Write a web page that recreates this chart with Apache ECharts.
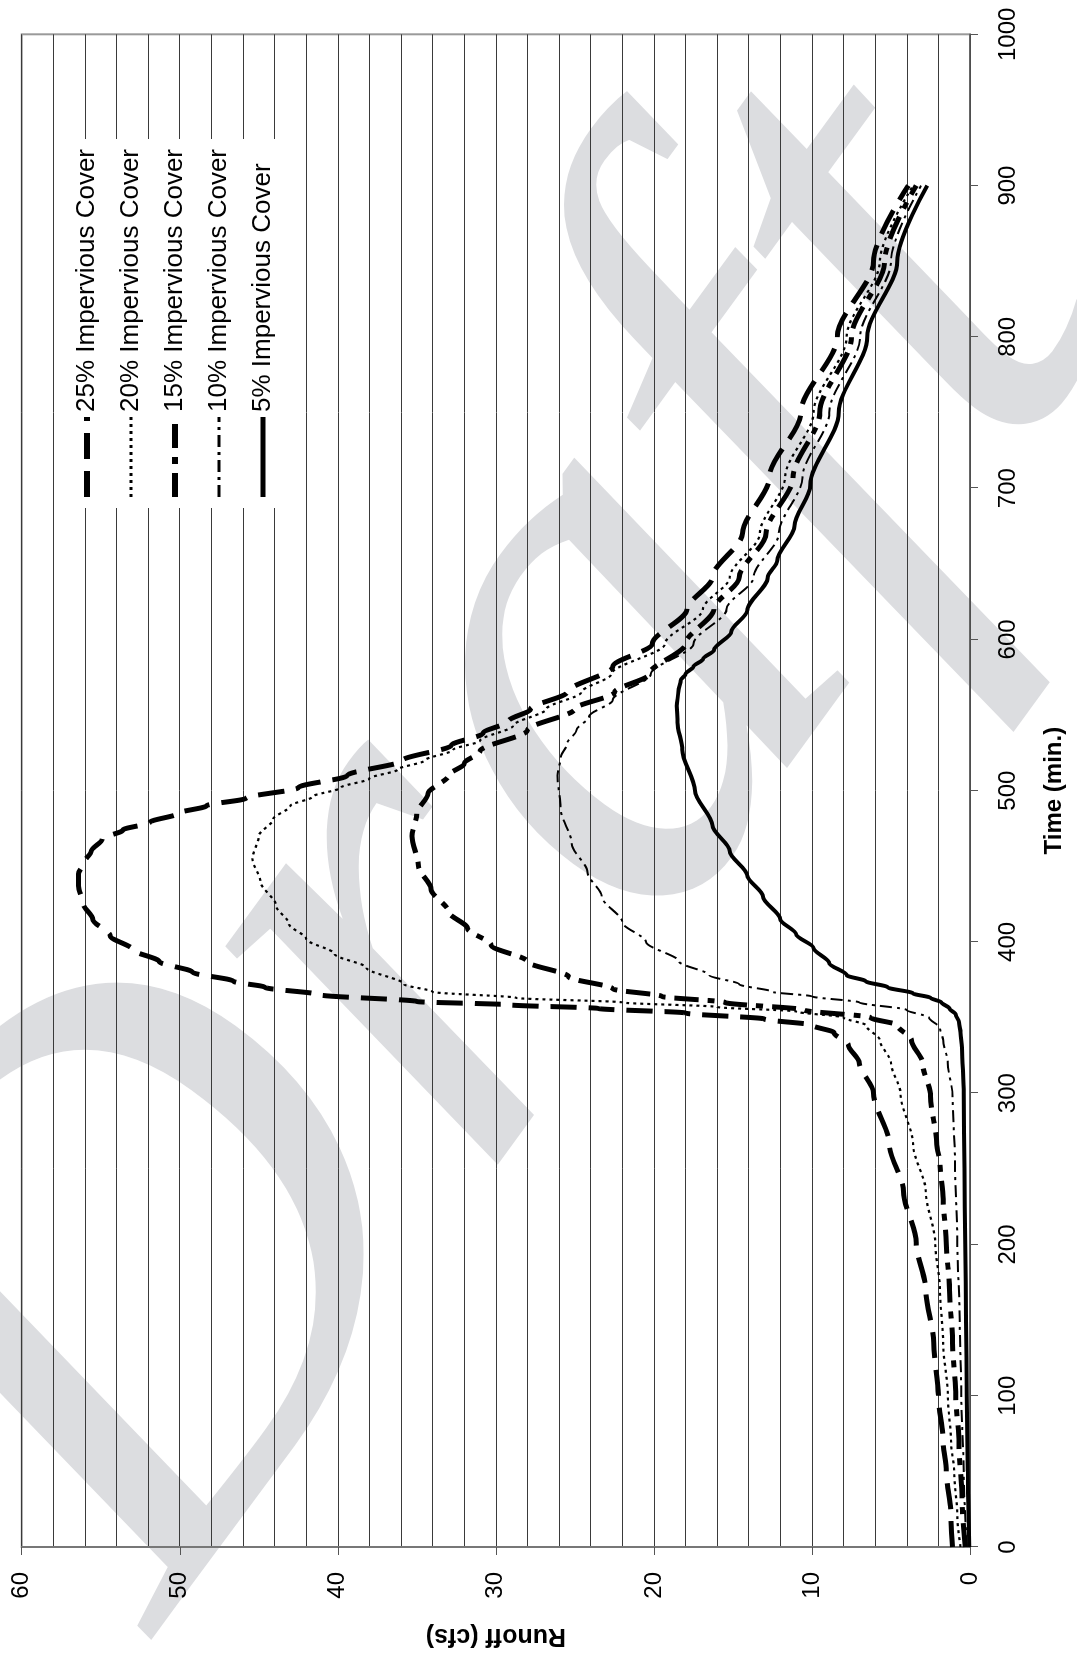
<!DOCTYPE html>
<html>
<head>
<meta charset="utf-8">
<script src="https://cdn.jsdelivr.net/npm/echarts/dist/echarts.min.js"></script>
<style>
  html, body { margin: 0; padding: 0; width: 1077px; height: 1656px; overflow: hidden; background: #fff; }
  /* the hydrograph is laid out landscape and turned a quarter turn onto the portrait page */
  #chart { position: absolute; left: 0; top: 0; width: 1656px; height: 1077px;
           transform-origin: 0 0; transform: translateY(1656px) rotate(-90deg); }
</style>
</head>
<body>
<div id="chart"></div>
<script>
// Runoff hydrographs (cfs) against time (min.) for five levels of impervious cover
const seriesNames = ['25% Impervious Cover', '20% Impervious Cover', '15% Impervious Cover',
                     '10% Impervious Cover', '5% Impervious Cover'];

const time25 = [0, 20, 50, 70, 100, 135, 170, 201, 235, 266, 300, 320, 332, 340, 345, 349, 353, 356, 358.4, 360.6,
                365, 370, 374, 380, 387, 395, 404, 415, 425, 437, 445, 452, 460, 468, 474, 479, 485, 490, 495, 502,
                510, 520, 530, 538, 546, 554, 565, 582, 597, 620, 641, 670, 707, 750, 800, 850, 900];
const flow25 = [1.1, 1.2, 1.5, 1.7, 2.0, 2.3, 2.8, 3.4, 4.2, 5.1, 6.1, 7.0, 7.7, 8.6, 10, 13, 18, 23.5, 29.1, 35,
                41.1, 44.6, 46.6, 49.2, 51.3, 53.0, 54.4, 55.5, 56.1, 56.4, 56.4, 56.1, 55.6, 54.9, 53.6, 51.9, 50.1, 48.3, 45.8, 42.5,
                39.4, 35.9, 32.8, 30.8, 29.2, 27.8, 25.5, 22.6, 20.1, 17.9, 16.3, 14.4, 12.7, 10.7, 8.4, 6.1, 3.9];

const time20 = [0, 20, 50, 69, 100, 135, 170, 201, 235, 266, 300, 320, 335, 345, 350, 354, 357, 360, 363, 367,
                372, 383, 392, 402, 412, 424, 440, 455, 470, 481, 490, 496, 502, 508, 514, 520, 527, 533, 543, 554,
                565, 577, 597, 620, 641, 670, 707, 750, 800, 850, 900];
const flow20 = [0.6, 0.8, 1.0, 1.2, 1.4, 1.7, 1.9, 2.2, 2.8, 3.6, 4.4, 5.0, 5.7, 6.6, 8.0, 11, 16, 22, 28.7, 34,
                35.8, 38.2, 40.2, 42.0, 43.1, 43.9, 44.9, 45.4, 45.0, 44.1, 43.0, 41.6, 39.8, 38.0, 36.2, 34.5, 32.7, 31.0, 28.9, 26.8,
                24.6, 22.7, 19.3, 16.9, 15.2, 13.3, 11.7, 9.9, 7.8, 5.7, 3.6];

const time15 = [0, 30, 69, 100, 135, 170, 201, 230, 254, 266, 298, 320, 335, 345, 350, 355, 360, 364, 369, 377,
                387, 398, 409, 420, 435, 450, 470, 485, 498, 510, 518, 526, 540, 554, 565, 577, 597, 620, 641, 670,
                707, 750, 800, 850, 900];
const flow15 = [0.3, 0.5, 0.7, 0.9, 1.1, 1.3, 1.5, 1.7, 1.9, 2.1, 2.5, 3.0, 3.7, 4.6, 6.3, 10.5, 15.5, 19.5, 22.6, 25.4,
                28.0, 30.3, 31.8, 33.0, 34.1, 34.9, 35.3, 35.0, 34.3, 33.0, 32.0, 31.0, 28.0, 25.0, 22.5, 20.3, 18.0, 16.2, 14.6, 12.9,
                11.2, 9.5, 7.5, 5.4, 3.4];

const time10 = [0, 50, 100, 150, 200, 254, 298, 320, 335, 343, 350, 355, 360, 364, 367, 372, 378, 387, 400, 413,
                430, 446, 465, 488, 510, 522, 531, 540, 549, 560, 577, 597, 620, 641, 670, 707, 750, 800, 850, 900];
const flow10 = [0.2, 0.4, 0.55, 0.65, 0.8, 0.95, 1.1, 1.4, 1.7, 1.9, 2.6, 4.0, 7.0, 10.0, 12.5, 14.6, 16.5, 18.4, 20.5, 22.0,
                23.3, 24.2, 25.2, 25.9, 26.1, 25.9, 25.5, 24.9, 24.1, 22.6, 20.2, 17.5, 15.4, 13.7, 12.1, 10.6, 8.9, 6.95, 5.0, 3.1];

const time5 = [0, 50, 100, 150, 200, 250, 300, 330, 340, 347, 352, 356, 360, 363, 366, 370, 374, 378, 386, 396,
               405, 415, 430, 444, 460, 477, 500, 527, 545, 556, 566, 573, 577, 582, 587, 593, 605, 619, 641, 652,
               675, 702, 750, 800, 850, 900];
const flow5 = [0.05, 0.15, 0.2, 0.25, 0.3, 0.35, 0.4, 0.5, 0.6, 0.7, 0.9, 1.3, 1.8, 2.5, 3.6, 5.2, 6.6, 7.8, 8.9, 9.9,
               11.0, 12.0, 13.1, 14.1, 15.2, 16.3, 17.4, 18.2, 18.5, 18.55, 18.45, 18.3, 18.0, 17.5, 16.9, 16.2, 15.1, 14.1, 12.8, 12.2,
               11.1, 10.1, 8.3, 6.5, 4.6, 2.7];

const timeTicks = { min: 0, max: 1000, step: 100 };
const runoffTicks = { min: 0, max: 60, step: 10, gridStep: 2 };

const pairs = (t, q) => t.map((v, i) => [v, q[i]]);
const curves = [
  { t: time25, q: flow25, width: 5,   dash: [26, 12] },
  { t: time20, q: flow20, width: 2.2, dash: [3, 4] },
  { t: time15, q: flow15, width: 5,   dash: [24, 9, 7, 9] },
  { t: time10, q: flow10, width: 2,   dash: [12, 5, 3, 5] },
  { t: time5,  q: flow5,  width: 4,   dash: 'solid' }
];

const FONT = '"Liberation Sans", Arial, Helvetica, sans-serif';
const chart = echarts.init(document.getElementById('chart'), null, { width: 1656, height: 1077 });

chart.setOption({
  backgroundColor: '#fff',
  animation: false,
  textStyle: { fontFamily: FONT },
  grid: { left: 101, right: 34.3, top: 21.7, bottom: 107, show: true, borderColor: '#9a9a9a', borderWidth: 2 },
  graphic: [{
    type: 'text', x: 806, y: 480, rotation: -0.63, z: -10,
    style: { text: 'Draft', font: 'italic 760px "Liberation Serif", "DejaVu Serif", serif',
             fill: '#dcdde0', align: 'center', verticalAlign: 'middle' }
  }],
  legend: {
    orient: 'vertical', left: 1148, top: 62, padding: [12, 10, 19, 8],
    backgroundColor: '#fff', itemWidth: 80, itemHeight: 14, itemGap: 18,
    itemStyle: { opacity: 0 },
    textStyle: { fontSize: 26, lineHeight: 24, color: '#000', fontFamily: FONT },
    data: seriesNames.map((name, i) => ({
      name, lineStyle: { width: curves[i].width + 1, type: curves[i].dash, color: '#000' }
    }))
  },
  xAxis: {
    type: 'value', min: timeTicks.min, max: timeTicks.max, interval: timeTicks.step,
    name: 'Time (min.)', nameLocation: 'middle', nameGap: 72,
    nameTextStyle: { fontSize: 24, fontWeight: 'bold', color: '#000', fontFamily: FONT },
    axisLine: { lineStyle: { color: '#555', width: 1.5 } },
    axisTick: { inside: false, length: 8, lineStyle: { color: '#555', width: 1 } },
    axisLabel: { fontSize: 24, color: '#000', margin: 26, fontFamily: FONT, formatter: v => String(v) },
    splitLine: { show: false }
  },
  yAxis: [{
    type: 'value', min: runoffTicks.min, max: runoffTicks.max, interval: runoffTicks.step,
    name: 'Runoff (cfs)', nameLocation: 'middle', nameGap: 76, nameRotate: 90,
    nameTextStyle: { fontSize: 25, fontWeight: 'bold', color: '#000', fontFamily: FONT },
    axisLine: { show: true, lineStyle: { color: '#777', width: 2 } },
    axisTick: { show: true, inside: false, length: 8, lineStyle: { color: '#555', width: 1 } },
    axisLabel: { fontSize: 24, color: '#000', margin: 25, fontFamily: FONT, formatter: v => String(v) },
    splitLine: { show: false }
  }, {
    type: 'value', min: runoffTicks.min, max: runoffTicks.max, interval: runoffTicks.gridStep,
    position: 'left', axisLine: { show: false }, axisTick: { show: false }, axisLabel: { show: false },
    splitLine: { show: true, lineStyle: { color: '#3a3a3a', width: 1 } }
  }],
  series: curves.map((c, i) => ({
    name: seriesNames[i], type: 'line', yAxisIndex: 0,
    data: pairs(c.t, c.q), showSymbol: false, symbol: 'none',
    smooth: 0.3, smoothMonotone: 'x',
    lineStyle: { color: '#000', width: c.width, type: c.dash, cap: 'butt' },
    itemStyle: { color: '#000' },
    z: 3
  }))
});
</script>
</body>
</html>
